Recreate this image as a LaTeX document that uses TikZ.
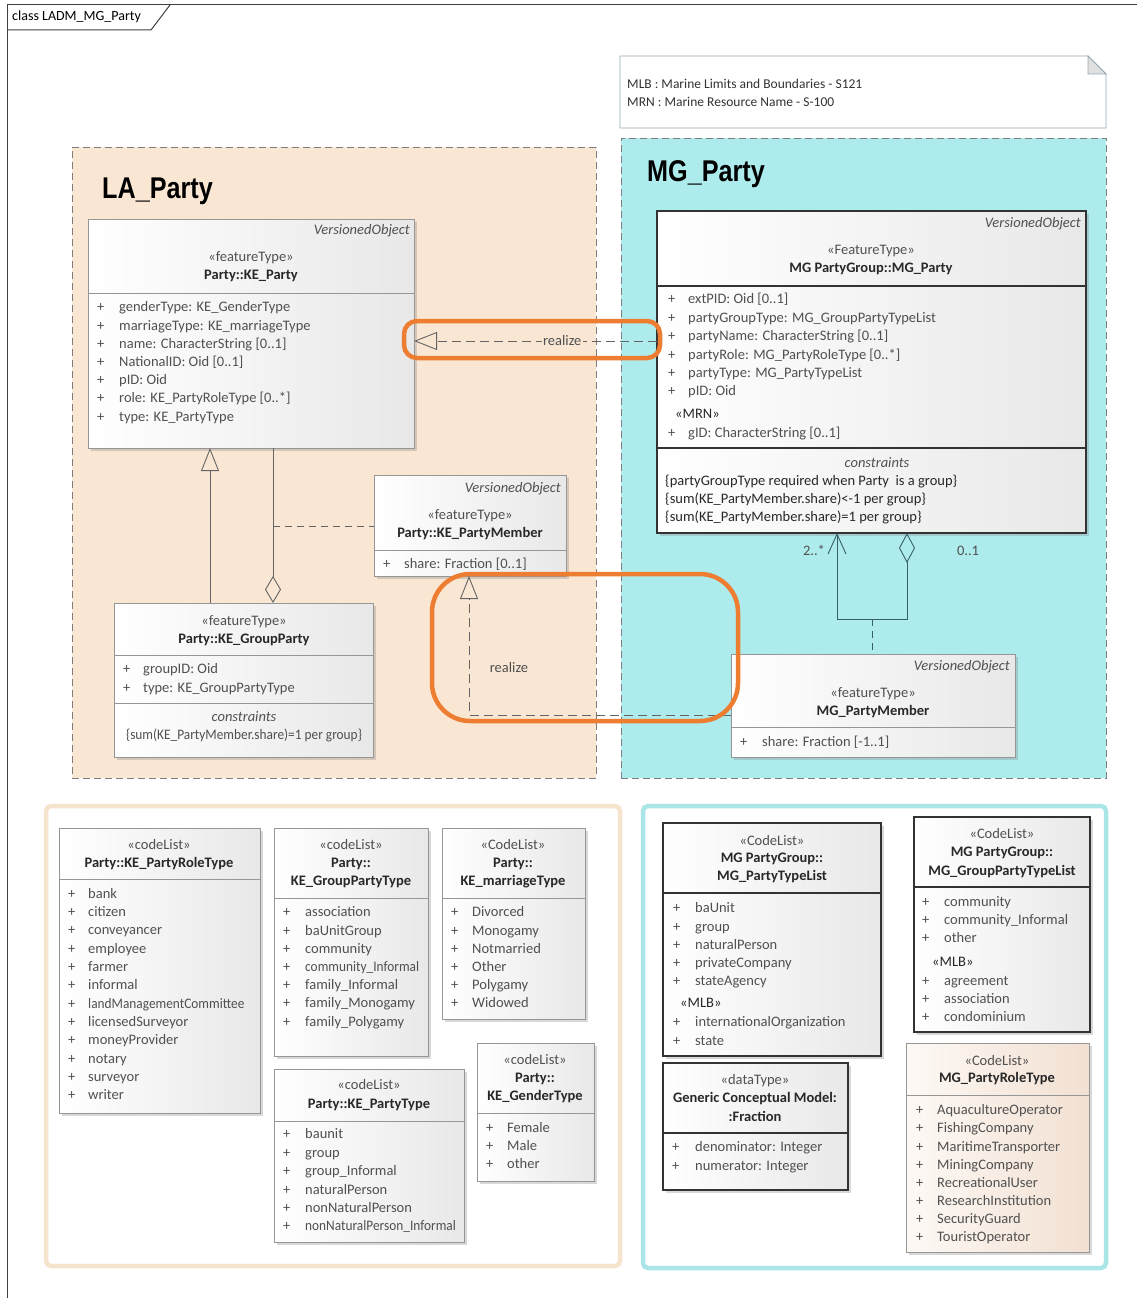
\documentclass[tikz,border=0pt]{standalone}
\usepackage{fontspec}
\setmainfont{Carlito}
\newfontfamily\pkgfont{Liberation Sans}
\usetikzlibrary{arrows.meta,shadows,fit}

\definecolor{lafill}{RGB}{249,231,212}
\definecolor{laedge}{RGB}{247,228,205}
\definecolor{mgfill}{RGB}{174,235,236}
\definecolor{mgedge}{RGB}{170,230,232}
\definecolor{pkgline}{RGB}{125,125,125}
\definecolor{hl}{RGB}{237,125,49}
\definecolor{txtgray}{RGB}{80,80,80}
\definecolor{namecol}{RGB}{40,40,40}
\definecolor{clsline}{RGB}{150,150,150}
\definecolor{conn}{RGB}{100,100,100}
\definecolor{mgconn}{RGB}{55,95,105}
\definecolor{noteline}{RGB}{150,170,180}
\definecolor{roleA}{RGB}{253,249,245}
\definecolor{roleB}{RGB}{242,224,210}

\newcommand{\umlfont}{\fontsize{14.5}{17}\selectfont}
\newcommand{\narrow}[1]{\scalebox{0.92}[1]{#1}}
\newcounter{lblc}
% text label, placed by the centre of its text line
\newcommand{\lbl}[4][]{\stepcounter{lblc}\node[txt,#1] (lbl\arabic{lblc}) at (#2,#3) {#4};}
\newcommand{\stereo}[3]{\lbl{#1}{#2}{#3}}
\newcommand{\cname}[3]{\lbl[text=namecol,font=\umlfont\bfseries]{#1}{#2}{#3}}
\newcommand{\attr}[4]{\lbl[anchor=base west]{#1}{#3}{+}\lbl[anchor=base west]{#2}{#3}{#4}}
\newcommand{\items}[5]{\foreach \itm [count=\k from 0] in {#5} {\attr{#1}{#2}{#3+\k*#4}{\itm}}}
\newcommand{\tagline}[3]{\lbl[anchor=base west,text=namecol]{#1}{#2}{#3}}
\newcommand{\vobj}[2]{\lbl[anchor=base east,font=\umlfont\itshape]{#1}{#2}{VersionedObject}}
\newcommand{\sepl}[3][sepline]{\draw[#1] (#2.west |- 0,#3) -- (#2.east |- 0,#3);}
\newcommand{\clsbox}[6][cls]{\node[#1, fit={(#3,#4) (#5,#6)}] (#2) {};}

\begin{document}
\begin{tikzpicture}[x=1pt,y=-1pt,
  txt/.style={inner sep=0pt, anchor=base, yshift=-4.8pt, text=txtgray, font=\umlfont},
  cls/.style={draw=clsline, line width=0.8pt, left color=white, right color=black!9,
     drop shadow={shadow xshift=3pt, shadow yshift=-3pt, opacity=0.3}, inner sep=0pt, outer sep=0pt},
  clsdark/.style={cls, draw=black!80, line width=1.1pt},
  clsrole/.style={cls, left color=roleA, right color=roleB},
  sepline/.style={draw=clsline, line width=0.8pt},
  sepdark/.style={draw=black!80, line width=1.1pt},
  pkg/.style={draw=pkgline, dash pattern=on 7pt off 4pt, line width=0.9pt, inner sep=0pt},
  grp/.style={line width=4.5pt, rounded corners=5pt, fill=white, inner sep=0pt},
  conn/.style={draw=conn, line width=0.9pt},
  realize/.style={conn, dash pattern=on 9pt off 5pt, -{Triangle[open, length=23pt, width=18pt]}},
  hilite/.style={draw=hl, line width=4.5pt},
  pkgtitle/.style={inner sep=0pt, anchor=base west, font=\pkgfont\bfseries\fontsize{30}{32}\selectfont},
  notetext/.style={anchor=base west, text=black!80, font=\fontsize{13.5}{15}\selectfont},
]
\useasboundingbox (0,0) rectangle (1137,1298);
\fill[white] (0,0) rectangle (1137,1298);

% diagram frame with its name tab
\draw[black!75, line width=1pt] (7,1298) -- (7,5) -- (1137,5);
\draw[black!75, line width=1pt] (7,30) -- (151,30) -- (170,5);
\lbl[anchor=base west, text=black, font=\fontsize{14}{16}\selectfont]{12}{16}{class LADM\_MG\_Party}

% abbreviation note
\draw[draw=noteline, fill=white, line width=0.8pt] (620,56) -- (1088,56) -- (1106,74) -- (1106,128) -- (620,128) -- cycle;
\draw[draw=noteline, fill=black!12, line width=0.8pt] (1088,56) -- (1088,74) -- (1106,74) -- cycle;
\lbl[notetext]{627}{84}{MLB : Marine Limits and Boundaries - S121}
\lbl[notetext]{627}{102}{MRN : Marine Resource Name - S-100}

% packages
\node[pkg, fill=lafill, fit={(72,147) (596,778)}] (lapkg) {};
\node[pkg, fill=mgfill, fit={(621,138) (1106,778)}] (mgpkg) {};
\node[pkgtitle] (latitle) at (102,198) {\scalebox{0.84}[1]{LA\_Party}};
\node[pkgtitle] (mgtitle) at (647,181) {\scalebox{0.84}[1]{MG\_Party}};

% KE_Party
\clsbox{keparty}{88}{219}{414}{448}
\sepl{keparty}{293}
\vobj{410}{230}
\stereo{251}{257}{«featureType»}
\cname{251}{275}{Party::KE\_Party}
\items{97}{119}{307}{18.2}{genderType: KE\_GenderType,marriageType: KE\_marriageType,name: CharacterString [0..1],NationalID: Oid [0..1],pID: Oid,role: KE\_PartyRoleType [0..*],type: KE\_PartyType}

% MG_Party
\clsbox[clsdark]{mgparty}{657}{211}{1086}{533}
\sepl[sepdark]{mgparty}{286}
\sepl[sepdark]{mgparty}{448}
\vobj{1081}{223}
\stereo{871}{250}{«FeatureType»}
\cname{871}{268}{MG PartyGroup::MG\_Party}
\items{668}{688}{299}{18.4}{extPID: Oid [0..1],partyGroupType: MG\_GroupPartyTypeList,partyName: CharacterString [0..1],partyRole: MG\_PartyRoleType [0..*],partyType: MG\_PartyTypeList,pID: Oid}
\tagline{675}{414}{«MRN»}
\attr{668}{688}{433}{gID: CharacterString [0..1]}
\lbl[font=\umlfont\itshape]{877}{463}{constraints}
\tagline{665}{481}{\{partyGroupType required when Party\ \ is a group\}}
\tagline{665}{499}{\{sum(KE\_PartyMember.share)<-1 per group\}}
\tagline{665}{517}{\{sum(KE\_PartyMember.share)=1 per group\}}

% KE_PartyMember
\clsbox{kepm}{374}{475}{566}{576}
\sepl{kepm}{550}
\vobj{561}{488}
\stereo{470}{515}{«featureType»}
\cname{470}{533}{Party::KE\_PartyMember}
\attr{383}{404}{564}{share: Fraction [0..1]}

% KE_GroupParty
\clsbox{kegp}{114}{603}{373}{757}
\sepl{kegp}{655}
\sepl{kegp}{703}
\stereo{244}{621}{«featureType»}
\cname{244}{639}{Party::KE\_GroupParty}
\attr{123}{143}{669}{groupID: Oid}
\attr{123}{143}{688}{type: KE\_GroupPartyType}
\lbl[font=\umlfont\itshape]{244}{717}{constraints}
\lbl{244}{735}{\narrow{\{sum(KE\_PartyMember.share)=1 per group\}}}

% MG_PartyMember
\clsbox{mgpm}{731}{654}{1015}{757}
\sepl{mgpm}{727}
\vobj{1010}{666}
\stereo{873}{693}{«featureType»}
\cname{873}{711}{MG\_PartyMember}
\attr{740}{762}{742}{share: Fraction [-1..1]}

% connectors inside LA_Party
\coordinate (gx) at (210,0);
\coordinate (ax) at (273,0);
\coordinate (acj) at (273,526);
\draw[conn, -{Triangle[open,length=23pt,width=18pt]}] (kegp.north -| gx) -- (keparty.south -| gx);
\draw[conn, {Diamond[open,length=27pt,width=16pt]}-] (kegp.north -| ax) -- (keparty.south -| ax);
\draw[conn, dash pattern=on 7pt off 5pt] (acj) -- (kepm.west |- acj);

% realizations from MG_Party to LA_Party
\coordinate (r1) at (0,341);
\draw[realize] (mgparty.west |- r1) -- (keparty.east |- r1)
  node[pos=0.39, fill=lafill, inner sep=1.5pt, text=txtgray, font=\umlfont] (rlz1) {realize};
\coordinate (r2) at (469,715);
\draw[realize] (mgpm.west |- r2) -- (r2) -- (kepm.south -| r2);
\lbl{509}{668}{realize}

% MG_PartyMember association class
\coordinate (jl) at (837,619);
\coordinate (jr) at (907,619);
\coordinate (jm) at (872,619);
\draw[conn, draw=mgconn, {Straight Barb[length=20pt,width=18pt]}-{Diamond[open,length=30pt,width=16pt]}]
  (mgparty.south -| jl) -- (jl) -- (jr) -- (mgparty.south -| jr);
\draw[conn, draw=mgconn, dash pattern=on 7pt off 5pt] (jm) -- (mgpm.north -| jm);
\lbl{814}{551}{2..*}
\lbl{968}{551}{0..1}

% code list groups
\node[grp, draw=laedge, fit={(46,806) (620,1266)}] (lagrp) {};
\node[grp, draw=mgedge, fit={(643,806) (1106,1268)}] (mggrp) {};

% KE_PartyRoleType
\clsbox{kerole}{59}{828}{260}{1113}
\sepl{kerole}{879}
\stereo{159}{845}{«codeList»}
\cname{159}{863}{Party::KE\_PartyRoleType}
\items{68}{88}{893.5}{18.3}{bank,citizen,conveyancer,employee,farmer,informal,\narrow{landManagementCommittee},licensedSurveyor,moneyProvider,notary,surveyor,writer}

% KE_GroupPartyType
\clsbox{kegpt}{274}{828}{428}{1056}
\sepl{kegpt}{898}
\stereo{351}{845}{«codeList»}
\cname{351}{863}{Party::}
\cname{351}{881}{KE\_GroupPartyType}
\items{283}{305}{912}{18.2}{association,baUnitGroup,community,\narrow{community\_Informal},family\_Informal,family\_Monogamy,family\_Polygamy}

% KE_marriageType
\clsbox{kemar}{442}{828}{585}{1019}
\sepl{kemar}{898}
\stereo{513}{845}{«CodeList»}
\cname{513}{863}{Party::}
\cname{513}{881}{KE\_marriageType}
\items{451}{472}{912}{18.2}{Divorced,Monogamy,Notmarried,Other,Polygamy,Widowed}

% KE_PartyType
\clsbox{kepty}{274}{1069}{464}{1242}
\sepl{kepty}{1121}
\stereo{369}{1085}{«codeList»}
\cname{369}{1104}{Party::KE\_PartyType}
\items{283}{305}{1134}{18.4}{baunit,group,group\_Informal,naturalPerson,nonNaturalPerson,\narrow{nonNaturalPerson\_Informal}}

% KE_GenderType
\clsbox{kegen}{477}{1043}{594}{1181}
\sepl{kegen}{1113}
\stereo{535}{1060}{«codeList»}
\cname{535}{1078}{Party::}
\cname{535}{1096}{KE\_GenderType}
\items{486}{507}{1128}{17.8}{Female,Male,other}

% MG_PartyTypeList
\clsbox[clsdark]{mgptl}{663}{823}{881}{1056}
\sepl[sepdark]{mgptl}{893}
\stereo{772}{841}{«CodeList»}
\cname{772}{858}{MG PartyGroup::}
\cname{772}{876}{MG\_PartyTypeList}
\items{673}{695}{908}{18.2}{baUnit,group,naturalPerson,privateCompany,stateAgency}
\tagline{680}{1003}{«MLB»}
\items{673}{695}{1022}{18.3}{internationalOrganization,state}

% MG_GroupPartyTypeList
\clsbox[clsdark]{mggptl}{914}{817}{1090}{1032}
\sepl[sepdark]{mggptl}{887}
\stereo{1002}{834}{«CodeList»}
\cname{1002}{852}{MG PartyGroup::}
\cname{1002}{871}{MG\_GroupPartyTypeList}
\items{922}{944}{902}{17.6}{community,community\_Informal,other}
\tagline{932}{962}{«MLB»}
\items{922}{944}{981}{18}{agreement,association,condominium}

% Fraction
\clsbox[clsdark]{frac}{663}{1063}{848}{1190}
\sepl[sepdark]{frac}{1133}
\stereo{755}{1080}{«dataType»}
\cname{755}{1098}{Generic Conceptual Model:}
\cname{755}{1117}{:Fraction}
\items{672}{695}{1147}{18.5}{denominator: Integer,numerator: Integer}

% MG_PartyRoleType
\clsbox[clsrole]{mgrole}{906}{1043}{1089}{1252}
\sepl{mgrole}{1095}
\stereo{997}{1061}{«CodeList»}
\cname{997}{1078}{MG\_PartyRoleType}
\items{916}{937}{1110}{18.1}{AquacultureOperator,FishingCompany,MaritimeTransporter,MiningCompany,RecreationalUser,ResearchInstitution,SecurityGuard,TouristOperator}

% highlight marks
\draw[hilite, rounded corners=13pt] (404,321) rectangle (660,358);
\draw[hilite, rounded corners=38pt] (432,574) rectangle (738,721);
\end{tikzpicture}
\end{document}
